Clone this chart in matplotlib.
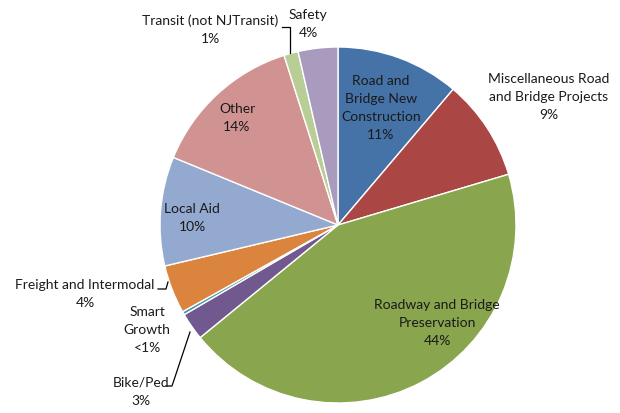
import matplotlib
matplotlib.use("Agg")
import matplotlib.pyplot as plt

# slice values (percent of total)
categories = ['Road and Bridge New Construction', 'Miscellaneous Road and Bridge Projects',
              'Roadway and Bridge Preservation', 'Bike/Ped', 'Smart Growth',
              'Freight and Intermodal', 'Local Aid', 'Other', 'Transit (not NJTransit)', 'Safety']
values = [11.2, 9.2, 43.7, 2.5, 0.3, 4.4, 9.9, 13.9, 1.3, 3.6]
label_texts = ['Road and\nBridge New\nConstruction\n11%', 'Miscellaneous Road\nand Bridge Projects\n9%',
               'Roadway and Bridge\nPreservation\n44%', 'Bike/Ped\n3%', 'Smart\nGrowth\n<1%',
               'Freight and Intermodal\n4%', 'Local Aid\n10%', 'Other\n14%',
               'Transit (not NJTransit)\n1%', 'Safety\n4%']

colors = ['#4572A7', '#AA4643', '#89A54E', '#71588F', '#4198AF',
          '#DB843D', '#93A9CF', '#D19392', '#B9CD96', '#A99BBD']

W, H = 620, 414
fig = plt.figure(figsize=(W / 100, H / 100), dpi=100)
ax = fig.add_axes([0, 0, 1, 1])

cx, cy, r = 338, H - 226, 178
ax.pie(values, colors=colors, startangle=90, counterclock=False,
       center=(cx, cy), radius=r, frame=True,
       wedgeprops=dict(edgecolor='white', linewidth=1))
ax.set_xlim(0, W)
ax.set_ylim(0, H)
ax.set_aspect('equal')
ax.axis('off')

# label centres in pixel coordinates (x, y from top)
label_pos = [(381, 108), (549, 97), (437, 323), (141, 392), (147, 330),
             (85, 294), (192, 218), (237, 118), (210, 30), (308, 24)]

for txt, (px, py) in zip(label_texts, label_pos):
    ax.text(px, H - py, txt, ha='center', va='center', fontsize=10,
            family='Lato', color='#1a1a1a', linespacing=1.62)

# leader lines
leaders = [
    [(282, 28), (290, 28), (290, 54)],     # Transit
    [(158, 290), (166, 290), (168, 283)],  # Freight
    [(166, 387), (172, 387), (190, 333)],  # Bike/Ped
]
for pts in leaders:
    xs = [p[0] for p in pts]
    ys = [H - p[1] for p in pts]
    ax.plot(xs, ys, color='black', linewidth=0.9)

fig.savefig('out.png', dpi=100, facecolor='white')
